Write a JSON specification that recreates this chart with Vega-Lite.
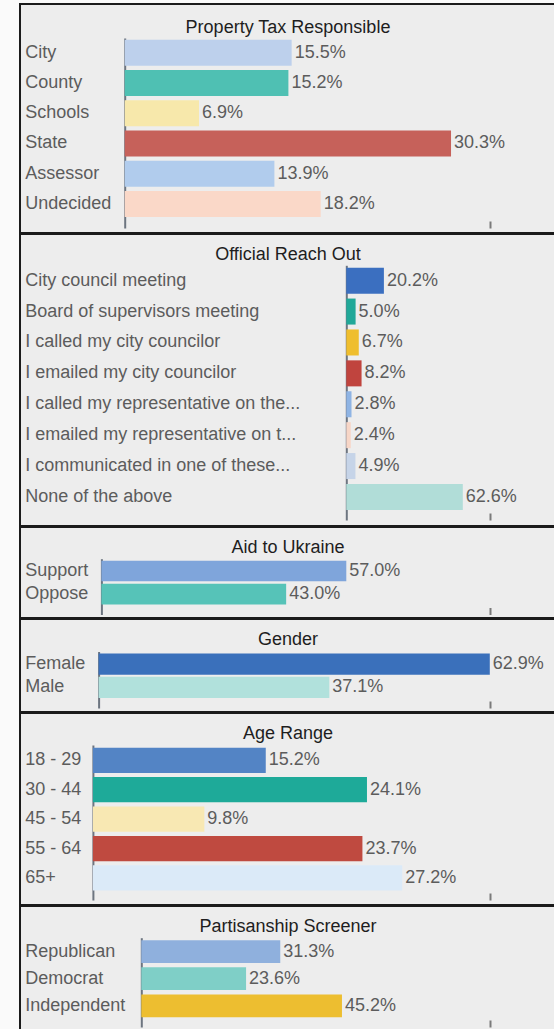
{
  "$schema": "https://vega.github.io/schema/vega-lite/v6.json",
  "background": "#fafafa",
  "padding": {"left": 19, "top": 3, "right": 0, "bottom": 0},
  "spacing": -2,
  "resolve": {"scale": {"color": "independent", "x": "independent", "y": "independent"}},
  "config": {
    "view": {"stroke": "#1b1b1b", "strokeWidth": 2, "fill": "#ededed"},
    "font": "Liberation Sans",
    "title": {"fontSize": 18, "fontWeight": "normal", "color": "#1e1e1e", "font": "Liberation Sans", "anchor": "middle"},
    "axisY": {"ticks": false, "tickSize": 0, "labelAlign": "left", "labelBaseline": "middle", "labelFontSize": 18, "labelColor": "#5c5c5c", "labelLimit": 0, "labelFont": "Liberation Sans", "domainColor": "#6d7580", "domainWidth": 2, "grid": false, "title": null},
    "axisX": {"labels": false, "domain": false, "grid": false, "title": null, "tickSize": 7, "tickWidth": 2, "tickColor": "#7a7a7a"},
    "text": {"fontSize": 18, "color": "#5c5c5c", "font": "Liberation Sans"}
  },
  "vconcat": [
    {
      "width": 536, "height": 229,
      "title": {"text": "Property Tax Responsible", "offset": -33},
      "data": {"values": [
        {"cat": "City", "pct": 0.155},
        {"cat": "County", "pct": 0.152},
        {"cat": "Schools", "pct": 0.069},
        {"cat": "State", "pct": 0.303},
        {"cat": "Assessor", "pct": 0.139},
        {"cat": "Undecided", "pct": 0.182}
      ]},
      "encoding": {
        "y": {"field": "cat", "type": "nominal", "sort": null, "scale": {"range": [34, 224], "paddingInner": 0.14, "paddingOuter": 0.21, "align": 0.13}, "axis": {"offset": -104.7, "labelPadding": 100}},
        "x": {"field": "pct", "type": "quantitative", "scale": {"domain": [0, 0.339], "range": [104.7, 469.8], "nice": false}, "axis": {"values": [0.339], "offset": -12}}
      },
      "layer": [
        {"mark": {"type": "bar"}, "encoding": {"color": {"field": "cat", "type": "nominal", "sort": null, "legend": null, "scale": {"domain": ["City", "County", "Schools", "State", "Assessor", "Undecided"], "range": ["#bdd0ec", "#4fc0b3", "#f7e8ab", "#c6615a", "#b1cced", "#fad8c8"]}}}},
        {"mark": {"type": "text", "align": "left", "baseline": "middle", "dx": 3}, "encoding": {"text": {"field": "pct", "type": "quantitative", "format": ".1%"}}}
      ]
    },
    {
      "width": 536, "height": 292,
      "title": {"text": "Official Reach Out", "offset": -30},
      "data": {"values": [
        {"cat": "City council meeting", "pct": 0.202},
        {"cat": "Board of supervisors meeting", "pct": 0.050},
        {"cat": "I called my city councilor", "pct": 0.067},
        {"cat": "I emailed my city councilor", "pct": 0.082},
        {"cat": "I called my representative on the...", "pct": 0.028},
        {"cat": "I emailed my representative on t...", "pct": 0.024},
        {"cat": "I communicated in one of these...", "pct": 0.049},
        {"cat": "None of the above", "pct": 0.626}
      ]},
      "encoding": {
        "y": {"field": "cat", "type": "nominal", "sort": null, "scale": {"range": [31.3, 286], "paddingInner": 0.158, "paddingOuter": 0.2, "align": 0.19}, "axis": {"offset": -326.3, "labelPadding": 321.6}},
        "x": {"field": "pct", "type": "quantitative", "scale": {"domain": [0, 0.771], "range": [326.3, 469.8], "nice": false}, "axis": {"values": [0.771], "offset": -13}}
      },
      "layer": [
        {"mark": {"type": "bar"}, "encoding": {"color": {"field": "cat", "type": "nominal", "sort": null, "legend": null, "scale": {"domain": ["City council meeting", "Board of supervisors meeting", "I called my city councilor", "I emailed my city councilor", "I called my representative on the...", "I emailed my representative on t...", "I communicated in one of these...", "None of the above"], "range": ["#3b6fc0", "#21a898", "#efbe2e", "#c0443e", "#8fb4e4", "#f7d6c7", "#c6d4e8", "#b1ddd8"]}}}},
        {"mark": {"type": "text", "align": "left", "baseline": "middle", "dx": 3}, "encoding": {"text": {"field": "pct", "type": "quantitative", "format": ".1%"}}}
      ]
    },
    {
      "width": 536, "height": 91,
      "title": {"text": "Aid to Ukraine", "offset": -30},
      "data": {"values": [
        {"cat": "Support", "pct": 0.570},
        {"cat": "Oppose", "pct": 0.430}
      ]},
      "encoding": {
        "y": {"field": "cat", "type": "nominal", "sort": null, "scale": {"range": [31.7, 87.5], "paddingInner": 0.11, "paddingOuter": 0.26, "align": 0.16}, "axis": {"offset": -81.4, "labelPadding": 76.7}},
        "x": {"field": "pct", "type": "quantitative", "scale": {"domain": [0, 0.904], "range": [81.4, 469.8], "nice": false}, "axis": {"values": [0.904], "offset": -10.5}}
      },
      "layer": [
        {"mark": {"type": "bar"}, "encoding": {"color": {"field": "cat", "type": "nominal", "sort": null, "legend": null, "scale": {"domain": ["Support", "Oppose"], "range": ["#7fa5db", "#56c3b8"]}}}},
        {"mark": {"type": "text", "align": "left", "baseline": "middle", "dx": 3}, "encoding": {"text": {"field": "pct", "type": "quantitative", "format": ".1%"}}}
      ]
    },
    {
      "width": 536, "height": 93,
      "title": {"text": "Gender", "offset": -30},
      "data": {"values": [
        {"cat": "Female", "pct": 0.629},
        {"cat": "Male", "pct": 0.371}
      ]},
      "encoding": {
        "y": {"field": "cat", "type": "nominal", "sort": null, "scale": {"range": [32.5, 89], "paddingInner": 0.086, "paddingOuter": 0.26, "align": 0.165}, "axis": {"offset": -78.6, "labelPadding": 73.9}},
        "x": {"field": "pct", "type": "quantitative", "scale": {"domain": [0, 0.629], "range": [78.6, 469.8], "nice": false}, "axis": {"values": [0.629], "offset": -11}}
      },
      "layer": [
        {"mark": {"type": "bar"}, "encoding": {"color": {"field": "cat", "type": "nominal", "sort": null, "legend": null, "scale": {"domain": ["Female", "Male"], "range": ["#3a70bb", "#b1e1dc"]}}}},
        {"mark": {"type": "text", "align": "left", "baseline": "middle", "dx": 3}, "encoding": {"text": {"field": "pct", "type": "quantitative", "format": ".1%"}}}
      ]
    },
    {
      "width": 536, "height": 192,
      "title": {"text": "Age Range", "offset": -30},
      "data": {"values": [
        {"cat": "18 - 29", "pct": 0.152},
        {"cat": "30 - 44", "pct": 0.241},
        {"cat": "45 - 54", "pct": 0.098},
        {"cat": "55 - 64", "pct": 0.237},
        {"cat": "65+", "pct": 0.272}
      ]},
      "encoding": {
        "y": {"field": "cat", "type": "nominal", "sort": null, "scale": {"range": [32, 187], "paddingInner": 0.14, "paddingOuter": 0.205, "align": 0.22}, "axis": {"offset": -72.9, "labelPadding": 68.2}},
        "x": {"field": "pct", "type": "quantitative", "scale": {"domain": [0, 0.349], "range": [72.9, 469.8], "nice": false}, "axis": {"values": [0.349], "offset": -12}}
      },
      "layer": [
        {"mark": {"type": "bar"}, "encoding": {"color": {"field": "cat", "type": "nominal", "sort": null, "legend": null, "scale": {"domain": ["18 - 29", "30 - 44", "45 - 54", "55 - 64", "65+"], "range": ["#5384c5", "#1eaa99", "#f8e8b3", "#bf4a40", "#dbeaf8"]}}}},
        {"mark": {"type": "text", "align": "left", "baseline": "middle", "dx": 3}, "encoding": {"text": {"field": "pct", "type": "quantitative", "format": ".1%"}}}
      ]
    },
    {
      "width": 536, "height": 127,
      "title": {"text": "Partisanship Screener", "offset": -30},
      "data": {"values": [
        {"cat": "Republican", "pct": 0.313},
        {"cat": "Democrat", "pct": 0.236},
        {"cat": "Independent", "pct": 0.452}
      ]},
      "encoding": {
        "y": {"field": "cat", "type": "nominal", "sort": null, "scale": {"range": [31.7, 121], "paddingInner": 0.16, "paddingOuter": 0.23, "align": 0.21}, "axis": {"offset": -121.3, "labelPadding": 116.6}},
        "x": {"field": "pct", "type": "quantitative", "scale": {"domain": [0, 0.785], "range": [121.3, 469.8], "nice": false}, "axis": {"values": [0.785], "offset": -13}}
      },
      "layer": [
        {"mark": {"type": "bar"}, "encoding": {"color": {"field": "cat", "type": "nominal", "sort": null, "legend": null, "scale": {"domain": ["Republican", "Democrat", "Independent"], "range": ["#8fb0dd", "#7fcfc7", "#edbe30"]}}}},
        {"mark": {"type": "text", "align": "left", "baseline": "middle", "dx": 3}, "encoding": {"text": {"field": "pct", "type": "quantitative", "format": ".1%"}}}
      ]
    }
  ]
}
